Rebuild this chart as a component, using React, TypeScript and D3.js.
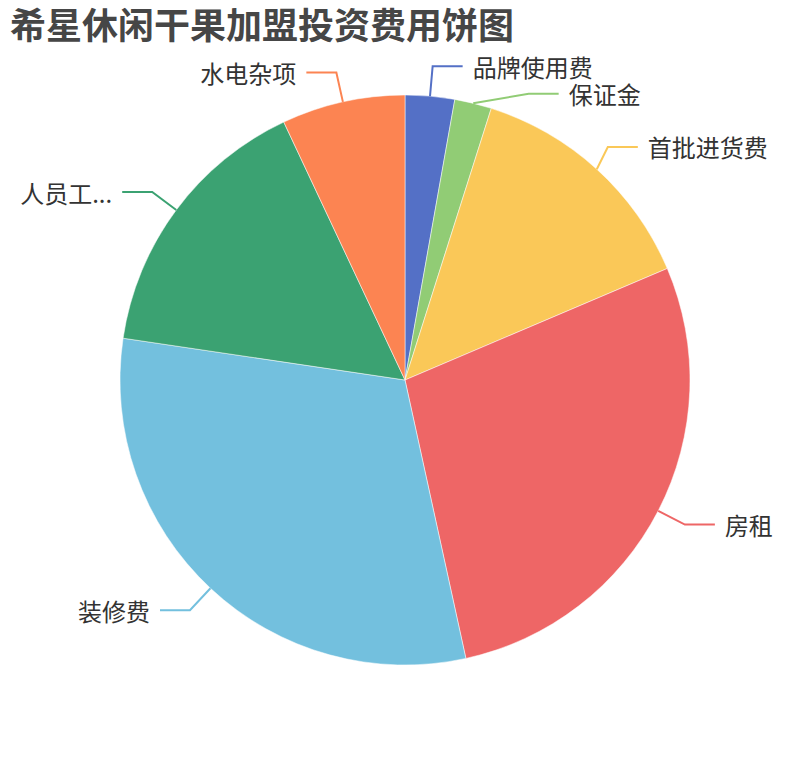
import { useEffect, useRef } from 'react'
import * as d3 from 'd3'

const title = '希星休闲干果加盟投资费用饼图'
const categories = ['品牌使用费', '保证金', '首批进货费', '房租', '装修费', '人员工资', '水电杂项']
const values = [2, 1.5, 9.8, 20, 22, 11.2, 5]
const colors = ['#5470c6', '#91cc75', '#fac858', '#ee6666', '#73c0de', '#3ba272', '#fc8452']

const width = 810
const height = 760
const cx = width / 2
const cy = height / 2
const radius = (Math.min(width, height) / 2) * 0.75
const len1 = 30
const len2 = 30
const gap = 10
const bleed = 20
const fontSize = 24
const font = '"Noto Sans CJK SC", "Noto Sans", sans-serif'

type Label = {
  name: string
  color: string
  dir: number
  p1: [number, number]
  x: number
  y: number
}

const App = () => {
  const ref = useRef<SVGSVGElement>(null)

  useEffect(() => {
    if (!ref.current) return
    const svg = d3.select(ref.current)
    svg.selectAll('*').remove()

    //pie angles, clockwise from 12 o'clock
    const arcs = d3.pie<number>().sort(null).value(d => d)(values)
    const arc = d3.arc<d3.PieArcDatum<number>>().innerRadius(0).outerRadius(radius)

    svg.append('g')
      .attr('transform', `translate(${cx},${cy})`)
      .attr('stroke', '#fff')
      .attr('stroke-width', 0.5)
      .selectAll('path')
      .data(arcs)
      .join('path')
        .attr('fill', (_, i) => colors[i])
        .attr('d', arc)

    //label anchors
    const labels: Label[] = arcs.map((a, i) => {
      const mid = (a.startAngle + a.endAngle) / 2
      const sx = Math.sin(mid)
      const sy = -Math.cos(mid)
      const dir = sx < 0 ? -1 : 1
      return {
        name: categories[i],
        color: colors[i],
        dir,
        p1: [cx + radius * sx, cy + radius * sy],
        x: cx + (radius + len1) * sx + dir * (len2 + gap),
        y: cy + (radius + len1) * sy,
      }
    })

    //push overlapping labels apart, then put them back on an ellipse
    const lineH = fontSize * 1.15
    const rA = radius + len1
    ;[1, -1].forEach(side => {
      const list = labels.filter(l => l.dir === side).sort((a, b) => a.y - b.y)
      let shifted = false
      for (let i = 1; i < list.length; i++) {
        if (list[i].y - list[i - 1].y < lineH) {
          list[i].y = list[i - 1].y + lineH
          shifted = true
        }
      }
      if (!shifted) return
      ;[list.filter(l => l.y <= cy), list.filter(l => l.y > cy)].forEach(semi => {
        if (!semi.length) return
        const far = semi.reduce((m, l) => (Math.abs(l.y - cy) > Math.abs(m.y - cy) ? l : m))
        const fdy = Math.abs(far.y - cy)
        const fdx = Math.abs(far.x - cx - len2 * side)
        const rB = fdx < rA ? Math.sqrt((fdy * fdy) / (1 - (fdx * fdx) / (rA * rA))) : rA
        semi.forEach(l => {
          const dy = Math.abs(l.y - cy)
          const dx = Math.sqrt(Math.max(0, 1 - (dy * dy) / (rB * rB)) * rA * rA)
          l.x = cx + (dx + len2) * side
        })
      })
    })

    //label lines
    svg.append('g')
      .attr('fill', 'none')
      .attr('stroke-width', 2)
      .selectAll('polyline')
      .data(labels)
      .join('polyline')
        .attr('stroke', d => d.color)
        .attr('points', d => {
          const endX = d.x - d.dir * gap
          const elbowX = endX - d.dir * len2
          return `${d.p1[0]},${d.p1[1]} ${elbowX},${d.y} ${endX},${d.y}`
        })

    //label texts, truncated when they run past the edge
    svg.append('g')
      .attr('font-family', font)
      .attr('font-size', fontSize)
      .attr('fill', '#333')
      .selectAll('text')
      .data(labels)
      .join('text')
        .attr('x', d => d.x)
        .attr('y', d => d.y)
        .attr('dominant-baseline', 'central')
        .attr('text-anchor', d => (d.dir < 0 ? 'end' : 'start'))
        .text(d => d.name)
        .each(function (d) {
          const node = this as SVGTextElement
          const avail = d.dir < 0 ? d.x - bleed : width - d.x - bleed
          let k = d.name.length
          while (k > 0 && node.getComputedTextLength() > avail) {
            k--
            node.textContent = d.name.slice(0, k) + '...'
          }
        })

    //title
    svg.append('text')
      .attr('x', 10)
      .attr('y', 39)
      .attr('font-family', font)
      .attr('font-size', 36)
      .attr('font-weight', 'bold')
      .attr('fill', '#464646')
      .text(title)

    return () => {
      svg.selectAll('*').remove()
    }
  }, [])

  return (
    <svg
      ref={ref}
      width={width}
      height={height}
      style={{ position: 'absolute', left: 0, top: 0, background: '#fff' }}
    />
  )
}

export default App
